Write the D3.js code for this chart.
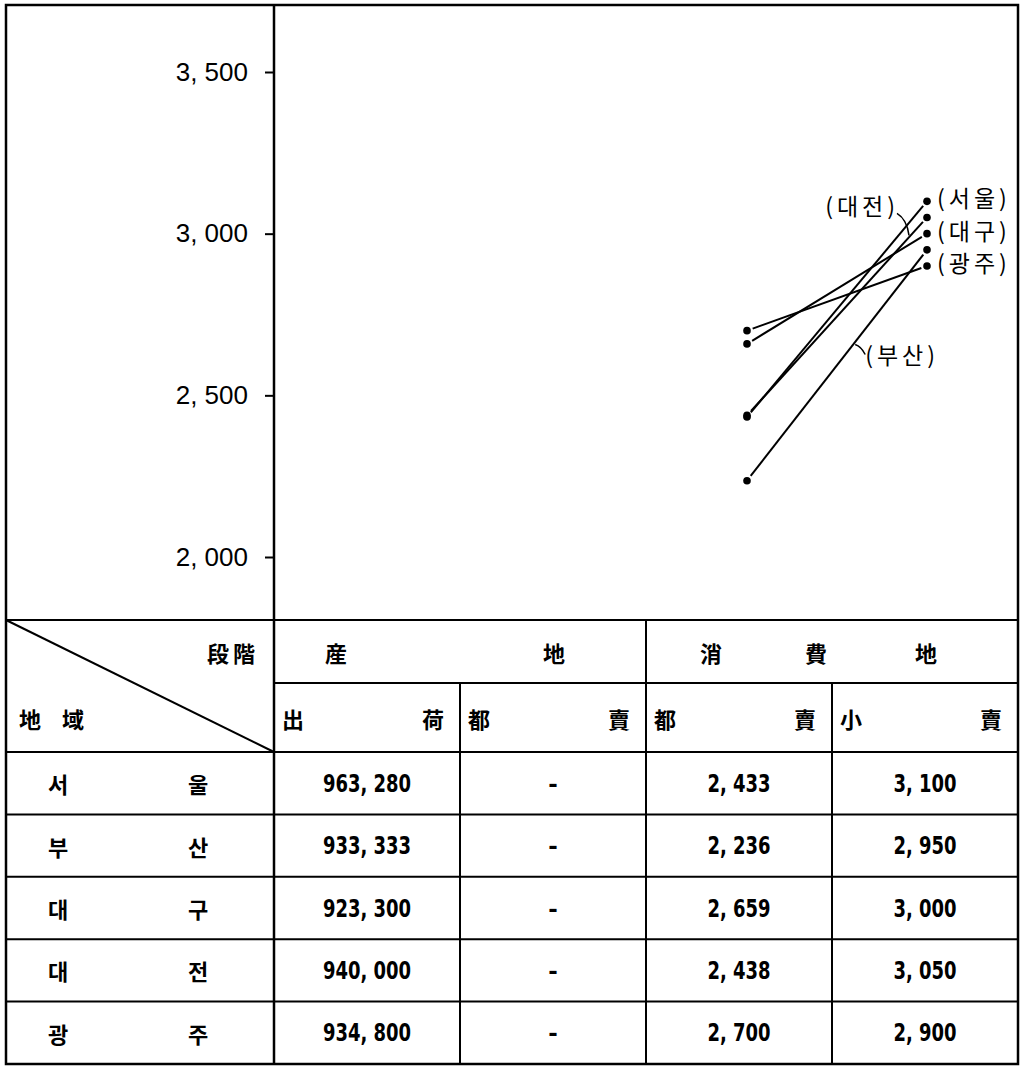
<!DOCTYPE html>
<html>
<head>
<meta charset="utf-8">
<script src="https://cdn.jsdelivr.net/npm/d3@7"></script>
<style>
  body { margin: 0; background: #fff; }
  .kr { font-family: 'Noto Sans CJK KR', sans-serif; }
  .num { font-family: 'DejaVu Sans', sans-serif; font-weight: bold; }
</style>
</head>
<body>
<div id="container"></div>
<script>
// data
const regions = ['서울', '부산', '대구', '대전', '광주']
const stages = ['出荷', '都賣(産地)', '都賣', '小賣']
const shipping = [963280, 933333, 923300, 940000, 934800]
const originWholesale = [null, null, null, null, null]
const wholesale = [2433, 2236, 2659, 2438, 2700]
const retail = [3100, 2950, 3000, 3050, 2900]
const tickValues = [2000, 2500, 3000, 3500]

// layout
const width = 1023
const height = 1067
const frameLeft = 6, frameRight = 1018, frameTop = 5, frameBottom = 1064
const axisX = 274
const tableTop = 620
const subHead = 683
const headBottom = 752

const fmt = (v) => d3.format(',')(v).replace(',', ', ')

const svg = d3.select('#container')
  .append('svg')
  .attr('width', width)
  .attr('height', height)
  .style('background', '#ffffff')

const xStage = d3.scaleBand()
  .domain(stages)
  .range([axisX, frameRight])

const yRow = d3.scaleBand()
  .domain(regions)
  .range([headBottom, frameBottom])

const yVal = d3.scaleLinear()
  .domain([2000, 3500])
  .range([557, 72])

const cx = (s) => xStage(s) + xStage.bandwidth() / 2

// frame
svg.append('rect')
  .attr('x', frameLeft).attr('y', frameTop)
  .attr('width', frameRight - frameLeft).attr('height', frameBottom - frameTop)
  .attr('fill', 'none').attr('stroke', '#000').attr('stroke-width', 2.5)

// y axis
svg.append('line')
  .attr('x1', axisX).attr('x2', axisX)
  .attr('y1', frameTop).attr('y2', frameBottom)
  .attr('stroke', '#000').attr('stroke-width', 2.5)

const yAxis = svg.append('g')
  .attr('transform', `translate(${axisX}, 0)`)
  .call(d3.axisLeft(yVal)
    .tickValues(tickValues)
    .tickSize(9)
    .tickPadding(17)
    .tickFormat(fmt))
yAxis.select('.domain').remove()
yAxis.selectAll('line').attr('stroke', '#000').attr('stroke-width', 2)
yAxis.selectAll('text')
  .attr('fill', '#000')
  .style('font-family', "'Liberation Sans', Arial, sans-serif")
  .style('font-size', '26px')

// lines for each region (plotted at the consumer wholesale / retail columns)
const plotShift = 8
const pts = regions.map((r, i) => ({
  region: r,
  x1: cx(stages[2]) + plotShift, y1: yVal(wholesale[i]),
  x2: cx(stages[3]) + 2, y2: yVal(retail[i])
}))

const gap = 6
const ux = (d) => (d.x2 - d.x1) / Math.hypot(d.x2 - d.x1, d.y2 - d.y1)
const uy = (d) => (d.y2 - d.y1) / Math.hypot(d.x2 - d.x1, d.y2 - d.y1)
svg.append('g').selectAll('line')
  .data(pts)
  .join('line')
  .attr('x1', (d) => d.x1 + gap * ux(d))
  .attr('y1', (d) => d.y1 + gap * uy(d))
  .attr('x2', (d) => d.x2 - gap * ux(d))
  .attr('y2', (d) => d.y2 - gap * uy(d))
  .attr('stroke', '#000')
  .attr('stroke-width', 2)

const dots = svg.append('g')
pts.forEach((d) => {
  dots.append('circle').attr('cx', d.x1).attr('cy', d.y1).attr('r', 3.8)
  dots.append('circle').attr('cx', d.x2).attr('cy', d.y2).attr('r', 3.8)
})

// labels at the right
const labelStyle = (sel) => sel
  .attr('class', 'kr')
  .style('font-size', '23px')
  .style('letter-spacing', '4px')
  .attr('dominant-baseline', 'central')

;['서울', '대구', '광주'].forEach((r) => {
  const d = pts[regions.indexOf(r)]
  svg.append('text')
    .call(labelStyle)
    .attr('x', d.x2 + 10)
    .attr('y', d.y2 - 4)
    .text(`(${r})`)
})

// 대전 label with leader
const along = (d, t) => [d.x1 + t * (d.x2 - d.x1), d.y1 + t * (d.y2 - d.y1)]
const dj = pts[regions.indexOf('대전')]
const [djx, djy] = along(dj, 0.9)
svg.append('text')
  .call(labelStyle)
  .attr('x', djx - 10)
  .attr('y', djy - 32)
  .attr('text-anchor', 'end')
  .text('(대전)')
svg.append('path')
  .attr('d', `M${djx - 12},${djy - 24} Q${djx - 2},${djy - 18} ${djx},${djy - 2}`)
  .attr('fill', 'none').attr('stroke', '#000').attr('stroke-width', 1.5)

// 부산 label with leader
const bs = pts[regions.indexOf('부산')]
const [bsx, bsy] = along(bs, 0.59)
svg.append('text')
  .call(labelStyle)
  .attr('x', bsx + 12)
  .attr('y', bsy + 10)
  .text('(부산)')
svg.append('path')
  .attr('d', `M${bsx + 2},${bsy} Q${bsx + 8},${bsy + 2} ${bsx + 12},${bsy + 10}`)
  .attr('fill', 'none').attr('stroke', '#000').attr('stroke-width', 1.5)

// table grid
const grid = svg.append('g').attr('stroke', '#000').attr('stroke-width', 2)
grid.append('line').attr('x1', frameLeft).attr('x2', frameRight).attr('y1', tableTop).attr('y2', tableTop)
grid.append('line').attr('x1', axisX).attr('x2', frameRight).attr('y1', subHead).attr('y2', subHead)
grid.selectAll('.row')
  .data(regions)
  .join('line')
  .attr('x1', frameLeft).attr('x2', frameRight)
  .attr('y1', (r) => yRow(r)).attr('y2', (r) => yRow(r))
grid.selectAll('.col')
  .data(stages.slice(1))
  .join('line')
  .attr('x1', (s) => xStage(s)).attr('x2', (s) => xStage(s))
  .attr('y1', (s, i) => i === 1 ? tableTop : subHead)
  .attr('y2', frameBottom)
grid.append('line')
  .attr('x1', frameLeft).attr('y1', tableTop)
  .attr('x2', axisX).attr('y2', headBottom)

// header text
const head = svg.append('g')
  .attr('class', 'kr')
  .style('font-size', '22px')
  .style('font-weight', 'bold')
  .attr('text-anchor', 'middle')
  .attr('dominant-baseline', 'central')
const hy1 = (tableTop + subHead) / 2
const hy2 = (subHead + headBottom) / 2
const addChars = (chars, xs, y) => chars.forEach((c, i) => {
  head.append('text').attr('x', xs[i]).attr('y', y).text(c)
})
addChars(['段', '階'], [axisX - 56, axisX - 30], hy1)
addChars(['地', '域'], [frameLeft + 24, frameLeft + 67], hy2)
addChars(['産', '地'], [xStage(stages[0]) + 62, xStage(stages[1]) + 94], hy1)
addChars(['消', '費', '地'], [xStage(stages[2]) + 65, xStage(stages[2]) + 170, xStage(stages[3]) + 94], hy1)
const subHeads = [['出', '荷'], ['都', '賣'], ['都', '賣'], ['小', '賣']]
stages.forEach((s, i) => {
  addChars(subHeads[i], [xStage(s) + 19, xStage(s) + xStage.bandwidth() - 27], hy2)
})

// body rows
const body = svg.append('g')
  .attr('text-anchor', 'middle')
  .attr('dominant-baseline', 'central')
regions.forEach((r, i) => {
  const y = yRow(r) + yRow.bandwidth() / 2
  body.append('text').attr('class', 'kr').style('font-size', '22px').style('font-weight', 'bold')
    .attr('x', frameLeft + 52).attr('y', y).text(r[0])
  body.append('text').attr('class', 'kr').style('font-size', '22px').style('font-weight', 'bold')
    .attr('x', axisX - 76).attr('y', y).text(r[1])
  const vals = [shipping[i], originWholesale[i], wholesale[i], retail[i]]
  stages.forEach((s, j) => {
    body.append('text')
      .attr('class', 'num')
      .style('font-size', '25px')
      .attr('transform', `translate(${cx(s)}, ${y}) scale(0.72, 1)`)
      .text(vals[j] == null ? '–' : fmt(vals[j]))
  })
})
</script>
</body>
</html>
